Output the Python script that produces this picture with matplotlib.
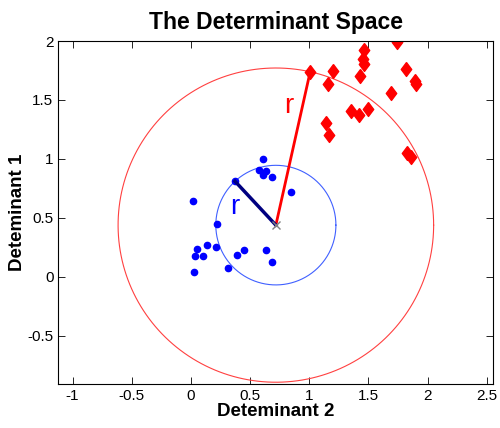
import numpy as np
import matplotlib
matplotlib.use("Agg")
import matplotlib.pyplot as plt

plt.rcParams['font.family'] = ['Liberation Sans', 'DejaVu Sans']

# class 1 (blue) points: x = Determinant 2, y = Determinant 1
blue_x = [0.613, 0.576, 0.633, 0.613, 0.684, 0.373, 0.847, 0.014, 0.220, 0.048,
          0.133, 0.212, 0.034, 0.099, 0.452, 0.387, 0.633, 0.684, 0.316, 0.025]
blue_y = [1.003, 0.909, 0.895, 0.867, 0.844, 0.810, 0.720, 0.640, 0.448, 0.235,
          0.269, 0.255, 0.172, 0.172, 0.229, 0.184, 0.229, 0.121, 0.074, 0.042]

# class 2 (red) points
red_x = [1.743, 1.460, 1.452, 1.466, 1.008, 1.197, 1.819, 1.432, 1.155, 1.896,
         1.904, 1.692, 1.353, 1.424, 1.494, 1.144, 1.169, 1.822, 1.856]
red_y = [1.991, 1.923, 1.850, 1.801, 1.739, 1.744, 1.765, 1.702, 1.637, 1.659,
         1.631, 1.561, 1.404, 1.376, 1.425, 1.306, 1.200, 1.051, 1.017]

center = (0.718, 0.438)
blue_edge = (0.373, 0.810)
red_edge = (1.008, 1.739)

r_small = np.hypot(blue_edge[0] - center[0], blue_edge[1] - center[1])
r_big = np.hypot(red_edge[0] - center[0], red_edge[1] - center[1])

fig = plt.figure(figsize=(5.0, 4.28), dpi=100)
ax = fig.add_axes([0.1166, 0.1028, 0.87, 0.8014])

t = np.linspace(0, 2 * np.pi, 400)
ax.plot(center[0] + r_big * np.cos(t), center[1] + r_big * np.sin(t), color='#ff4040', lw=0.8)
ax.plot(center[0] + r_small * np.cos(t), center[1] + r_small * np.sin(t), color='#4060ff', lw=0.8)

# wider diamond than the stock 'd'
diamond = [(0, 1), (0.75, 0), (0, -1), (-0.75, 0), (0, 1)]

ax.plot(blue_x, blue_y, '.', color='#0000ff', markersize=9)
ax.plot(red_x, red_y, ls='none', marker=diamond, color='#ff0000', markersize=10)

ax.plot([center[0], red_edge[0]], [center[1], red_edge[1]], color='#ff0000', lw=2)
ax.plot([center[0], blue_edge[0]], [center[1], blue_edge[1]], color='#000080', lw=2.5)
ax.plot(center[0], center[1], 'x', color='#808080', markersize=6, mew=1)

ax.text(0.83, 1.45, 'r', color='#ff0000', fontsize=20, ha='center', va='center')
ax.text(0.37, 0.59, 'r', color='#0000ff', fontsize=20, ha='center', va='center')

ax.set_xlim(-1.12, 2.555)
ax.set_ylim(-0.91, 2.0)
ax.set_xticks([-1, -0.5, 0, 0.5, 1, 1.5, 2, 2.5])
ax.set_yticks([-0.5, 0, 0.5, 1, 1.5, 2])
ax.set_xticklabels(['-1', '-0.5', '0', '0.5', '1', '1.5', '2', '2.5'])
ax.set_yticklabels(['-0.5', '0', '0.5', '1', '1.5', '2'])
ax.tick_params(direction='in', top=True, right=True, labelsize=11, length=5, width=0.6)
for s in ax.spines.values():
    s.set_linewidth(0.8)

ax.set_title('The Determinant Space', fontsize=16.5, fontweight='bold', pad=9)
ax.set_xlabel('Deteminant 2', fontsize=13.5, fontweight='bold', labelpad=0)
ax.set_ylabel('Deteminant 1', fontsize=13.5, fontweight='bold', labelpad=1)

fig.savefig('out.png', dpi=100)
